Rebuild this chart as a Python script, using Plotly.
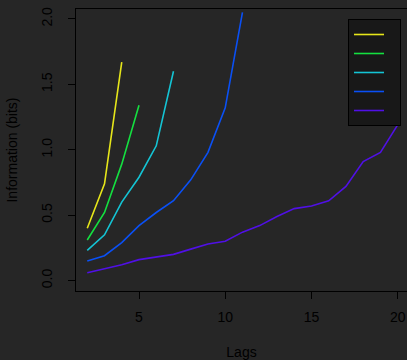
import plotly.graph_objects as go

# ---- data ----
lags = list(range(2, 21))
series_names = ["1", "2", "3", "4", "5"]
series_colors = ["#E6E61A", "#14E040", "#14C4D4", "#0A50F5", "#5010E6"]
s1 = [0.40, 0.74, 1.67]
s2 = [0.31, 0.52, 0.89, 1.34]
s3 = [0.23, 0.35, 0.60, 0.79, 1.03, 1.60]
s4 = [0.15, 0.19, 0.29, 0.42, 0.52, 0.61, 0.77, 0.98, 1.32, 2.05]
s5 = [0.06, 0.09, 0.12, 0.16, 0.18, 0.20, 0.24, 0.28, 0.30, 0.37,
      0.42, 0.49, 0.55, 0.57, 0.61, 0.72, 0.91, 0.98, 1.19]
series_values = [s1, s2, s3, s4, s5]

x_ticks = [5, 10, 15, 20]
y_ticks = [0.0, 0.5, 1.0, 1.5, 2.0]
y_tick_labels = ["0.0", "0.5", "1.0", "1.5", "2.0"]

BG = "#262626"
LEG_BG = "#181818"
FONT = "Liberation Sans, Arial, Helvetica, sans-serif"

fig = go.Figure()
for name, color, vals in zip(series_names, series_colors, series_values):
    fig.add_trace(go.Scatter(
        x=lags[:len(vals)], y=vals, mode="lines", name=name,
        line=dict(color=color, width=1.6),
    ))

fig.update_layout(
    width=407, height=360,
    margin=dict(l=76, r=0, t=9, b=69, autoexpand=False),
    paper_bgcolor=BG, plot_bgcolor=BG,
    font=dict(family=FONT, size=14, color="#000000"),
    showlegend=True,
    legend=dict(
        x=(348 - 76) / 331, y=(291 - 19) / 282,
        xanchor="left", yanchor="top",
        bgcolor=LEG_BG, bordercolor="#000000", borderwidth=1,
        font=dict(size=9, color=LEG_BG),
        itemwidth=30,
    ),
)

fig.update_xaxes(
    range=[1.347, 20.54], showgrid=False, zeroline=False,
    showline=True, linecolor="#000000", linewidth=1, mirror=True,
    ticks="outside", ticklen=7, tickcolor="#000000", tickwidth=1,
    tickvals=x_ticks, ticktext=[str(v) for v in x_ticks],
    ticklabelstandoff=6,
    title=dict(text="Lags", standoff=24, font=dict(size=14, color="#000000")),
)
fig.update_yaxes(
    range=[-0.080, 2.076], showgrid=False, zeroline=False,
    showline=True, linecolor="#000000", linewidth=1, mirror=False,
    ticks="outside", ticklen=7, tickcolor="#000000", tickwidth=1,
    tickvals=y_ticks, ticktext=y_tick_labels, tickangle=-90,
    ticklabelstandoff=10,
    title=dict(text="Information (bits)", standoff=18, font=dict(size=14, color="#000000")),
)

fig.write_html("out.html")
